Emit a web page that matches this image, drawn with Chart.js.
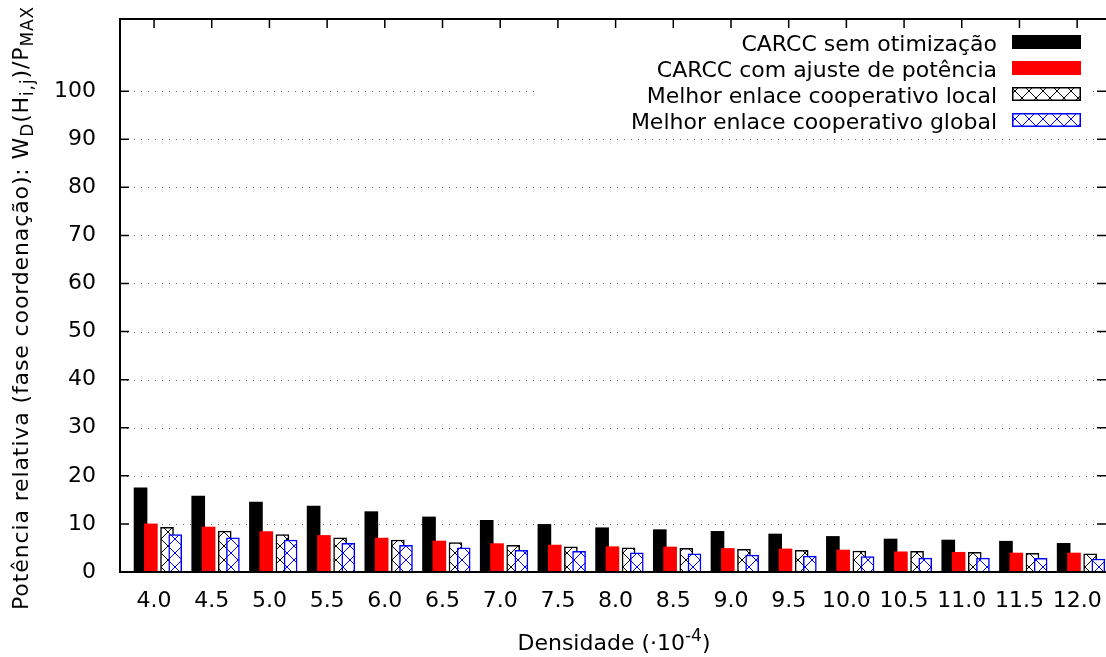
<!DOCTYPE html>
<html>
<head>
<meta charset="utf-8">
<script src="https://cdn.jsdelivr.net/npm/chart.js@4.4.0/dist/chart.umd.min.js"></script>
<style>
  html, body { margin: 0; padding: 0; background: #fff; }
  canvas { display: block; }
</style>
</head>
<body>
<canvas id="chart" width="1106" height="657"></canvas>
<script>
// categories (density x 10^-4)
const CATEGORIES = ['4.0', '4.5', '5.0', '5.5', '6.0', '6.5', '7.0', '7.5', '8.0',
  '8.5', '9.0', '9.5', '10.0', '10.5', '11.0', '11.5', '12.0'];

const SEM_OTIMIZACAO = [17.5, 15.8, 14.55, 13.7, 12.55, 11.45, 10.75, 9.9, 9.2,
  8.8, 8.45, 7.9, 7.4, 6.86, 6.65, 6.4, 5.96];
const AJUSTE_POTENCIA = [10.0, 9.35, 8.4, 7.6, 7.05, 6.45, 5.9, 5.6, 5.26,
  5.2, 4.9, 4.8, 4.57, 4.2, 4.1, 3.95, 3.95];
const ENLACE_LOCAL = [9.3, 8.5, 7.8, 7.1, 6.65, 6.1, 5.55, 5.26, 5.05,
  4.9, 4.7, 4.5, 4.37, 4.3, 4.1, 3.9, 3.8];
const ENLACE_GLOBAL = [7.8, 7.1, 6.65, 5.95, 5.55, 5.05, 4.5, 4.3, 4.0,
  3.8, 3.5, 3.3, 3.2, 2.9, 2.9, 2.85, 2.7];

const SERIES_LABELS = [
  'CARCC sem otimização',
  'CARCC com ajuste de potência',
  'Melhor enlace cooperativo local',
  'Melhor enlace cooperativo global'
];
const Y_TICKS = [0, 10, 20, 30, 40, 50, 60, 70, 80, 90, 100];

// layout (category units / px), not data
const BAR_OFFSET = [-0.234, -0.055, 0.225, 0.367];
const BAR_WIDTH = 13;
const FONT = '"DejaVu Sans", sans-serif';
const FS = 22;

/** crosshatch pattern on white */
function hatch(color) {
  const c = document.createElement('canvas');
  c.width = c.height = 14;
  const g = c.getContext('2d');
  g.fillStyle = '#fff';
  g.fillRect(0, 0, 14, 14);
  g.strokeStyle = color;
  g.lineWidth = 1;
  g.beginPath();
  g.moveTo(-1, -1); g.lineTo(15, 15);
  g.moveTo(15, -1); g.lineTo(-1, 15);
  g.stroke();
  return g.createPattern(c, 'repeat');
}

const FILLS = ['#000000', '#ff0000', hatch('#000000'), hatch('#0000ff')];
const EDGES = ['#000000', '#ff0000', '#000000', '#0000ff'];
const EDGE_W = [0, 0, 1.5, 1.5];
const VALUES = [SEM_OTIMIZACAO, AJUSTE_POTENCIA, ENLACE_LOCAL, ENLACE_GLOBAL];

/** draw text with sub/superscript pieces, centered at 0 on baseline 0; optional target length */
function richText(ctx, parts, target) {
  const fontOf = p => (p.s ? Math.round(FS * 0.78) : FS) + 'px ' + FONT;
  const measure = () => parts.map(p => { ctx.font = fontOf(p); return ctx.measureText(p.t).width; });
  let widths = measure();
  if (target) {
    const n = parts.reduce((a, p) => a + p.t.length, 0);
    ctx.letterSpacing = ((target - widths.reduce((a, b) => a + b, 0)) / n).toFixed(2) + 'px';
    widths = measure();
  }
  let x = -widths.reduce((a, b) => a + b, 0) / 2;
  parts.forEach((p, i) => {
    ctx.font = fontOf(p);
    ctx.fillText(p.t, x, p.s || 0);
    x += widths[i];
  });
  ctx.letterSpacing = '0px';
}

const frame = {
  id: 'frame',
  beforeDatasetsDraw(chart) {
    const { ctx, chartArea: a, scales: { x, y } } = chart;
    ctx.save();
    // dotted grid
    ctx.strokeStyle = 'rgba(0,0,0,0.6)';
    ctx.lineWidth = 1;
    ctx.setLineDash([1, 6]);
    Y_TICKS.slice(1).forEach(v => {
      const py = Math.round(y.getPixelForValue(v)) + 0.5;
      ctx.beginPath();
      ctx.moveTo(a.left, py);
      ctx.lineTo(a.right, py);
      ctx.stroke();
    });
    ctx.setLineDash([]);
    // key background hides the grid behind it
    ctx.fillStyle = '#fff';
    ctx.fillRect(537, 26, 555, 106);
    // inward tick marks
    ctx.strokeStyle = '#000';
    ctx.lineWidth = 1.5;
    ctx.beginPath();
    Y_TICKS.forEach(v => {
      const py = y.getPixelForValue(v);
      ctx.moveTo(a.left, py); ctx.lineTo(a.left + 9, py);
      ctx.moveTo(a.right, py); ctx.lineTo(a.right - 9, py);
    });
    CATEGORIES.forEach((c, i) => {
      const px = x.getPixelForValue(i);
      ctx.moveTo(px, a.top); ctx.lineTo(px, a.top + 9);
      ctx.moveTo(px, a.bottom); ctx.lineTo(px, a.bottom - 9);
    });
    ctx.stroke();
    // key
    ctx.font = FS + 'px ' + FONT;
    ctx.textAlign = 'right';
    ctx.textBaseline = 'alphabetic';
    SERIES_LABELS.forEach((label, s) => {
      const cy = 42 + s * 26;
      ctx.fillStyle = '#000';
      ctx.fillText(label, 997, cy + 8.5);
      ctx.fillStyle = FILLS[s];
      ctx.fillRect(1012, cy - 7, 69, 14);
      if (EDGE_W[s]) {
        ctx.strokeStyle = EDGES[s];
        ctx.lineWidth = 1.5;
        ctx.strokeRect(1012.75, cy - 6.25, 67.5, 12.5);
      }
    });
    ctx.restore();
  },
  afterDraw(chart) {
    const { ctx, chartArea: a } = chart;
    ctx.save();
    // border (right side falls just outside the canvas)
    ctx.strokeStyle = '#000';
    ctx.lineWidth = 2;
    ctx.strokeRect(a.left, a.top, a.right + 2 - a.left, a.bottom - a.top);
    ctx.fillStyle = '#000';
    ctx.textAlign = 'left';
    ctx.textBaseline = 'alphabetic';
    // y title
    ctx.save();
    ctx.translate(28, 308);
    ctx.rotate(-Math.PI / 2);
    richText(ctx, [
      { t: 'Potência relativa (fase coordenação): W' },
      { t: 'D', s: 5 },
      { t: '(H' },
      { t: 'i,j', s: 5 },
      { t: ')/P' },
      { t: 'MAX', s: 5 }
    ], 604);
    ctx.restore();
    // x title
    ctx.save();
    ctx.translate(614, 650);
    richText(ctx, [
      { t: 'Densidade (·10' },
      { t: '-4', s: -9 },
      { t: ')' }
    ]);
    ctx.restore();
    ctx.restore();
  }
};

Chart.defaults.font.family = FONT;
Chart.defaults.font.size = FS;
Chart.defaults.color = '#000';

new Chart(document.getElementById('chart'), {
  type: 'bar',
  data: {
    datasets: SERIES_LABELS.map((label, s) => ({
      label,
      data: VALUES[s].map((v, i) => ({ x: i + BAR_OFFSET[s], y: v })),
      backgroundColor: FILLS[s],
      borderColor: EDGES[s],
      borderWidth: EDGE_W[s],
      barThickness: BAR_WIDTH,
      grouped: false,
      order: 4 - s
    }))
  },
  options: {
    responsive: false,
    animation: false,
    layout: { padding: { top: 19, right: 0, left: 0, bottom: 0 } },
    plugins: { legend: { display: false }, tooltip: { enabled: false } },
    scales: {
      x: {
        type: 'linear',
        min: -0.59,
        max: 16.5,
        offset: false,
        grid: { display: false, drawTicks: false },
        border: { display: false },
        afterBuildTicks: sc => { sc.ticks = CATEGORIES.map((c, i) => ({ value: i })); },
        afterFit: sc => { sc.height = 85; sc.paddingLeft = 0; sc.paddingRight = 0; },
        ticks: {
          padding: 16,
          maxRotation: 0,
          autoSkip: false,
          callback: v => CATEGORIES[v]
        }
      },
      y: {
        min: 0,
        max: 115,
        grid: { display: false, drawTicks: false },
        border: { display: false },
        afterBuildTicks: sc => { sc.ticks = Y_TICKS.map(v => ({ value: v })); },
        afterFit: sc => { sc.width = 120; sc.paddingTop = 0; sc.paddingBottom = 0; },
        ticks: { padding: 24 }
      }
    }
  },
  plugins: [frame]
});
</script>
</body>
</html>
